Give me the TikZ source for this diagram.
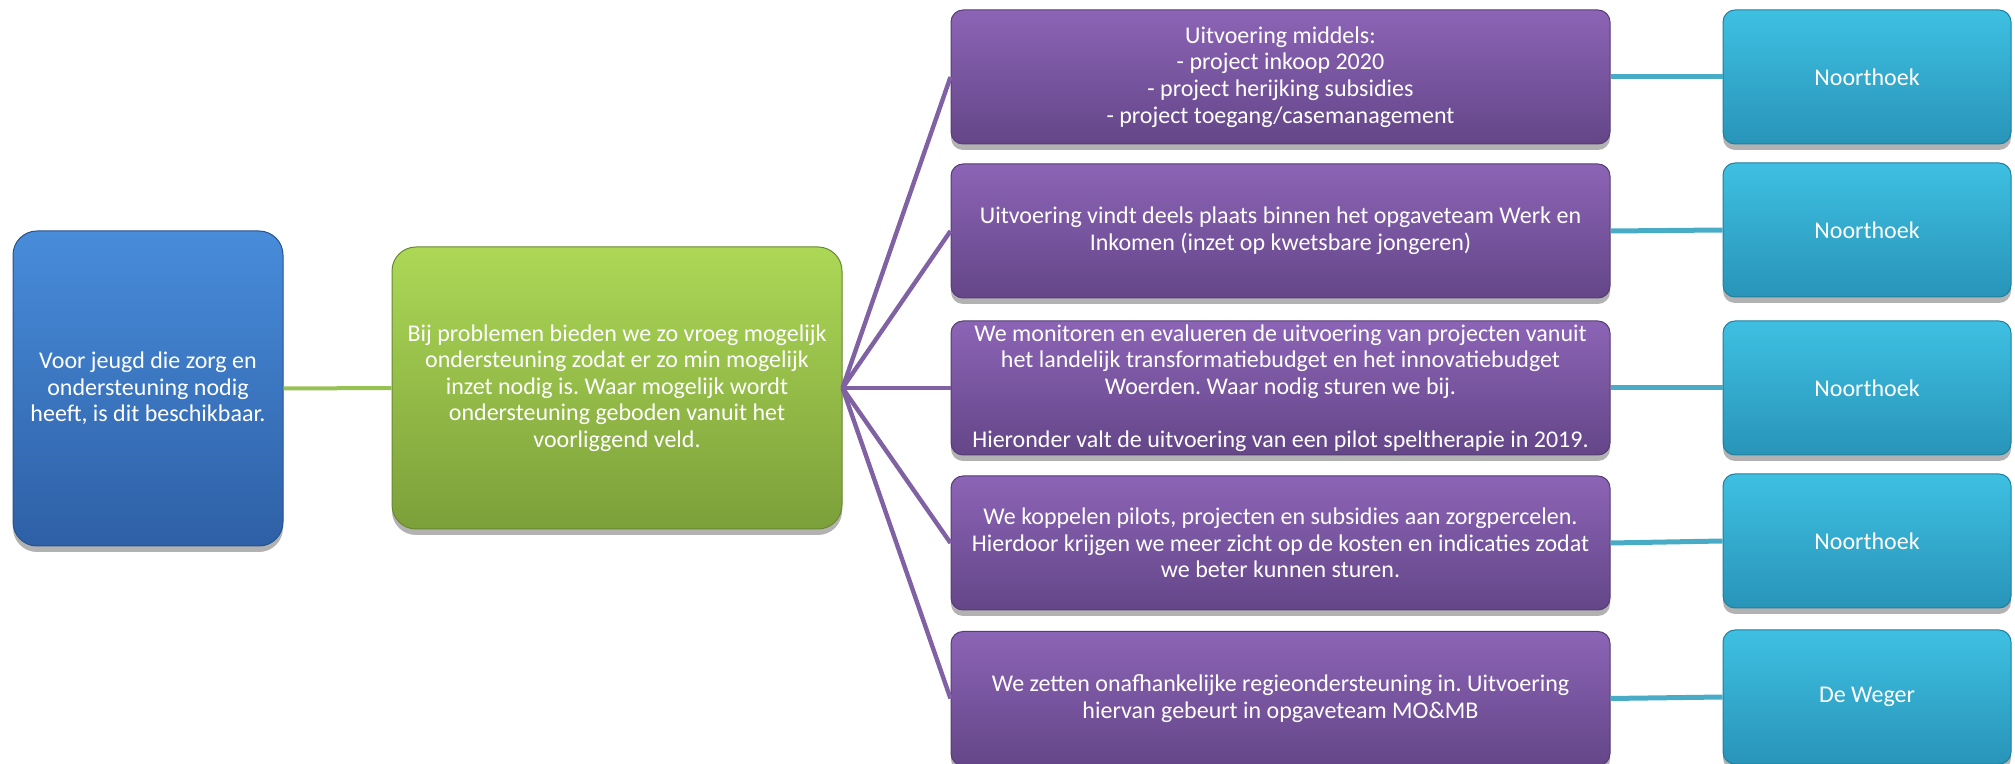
\documentclass[tikz,border=0pt]{standalone}
\usepackage{fontspec}
\setmainfont{Carlito}
\usetikzlibrary{shadows}
\frenchspacing
\definecolor{bluetop}{RGB}{72,140,218}
\definecolor{bluebot}{RGB}{46,96,166}
\definecolor{greentop}{RGB}{172,216,86}
\definecolor{greenbot}{RGB}{124,160,58}
\definecolor{purptop}{RGB}{140,100,182}
\definecolor{purpbot}{RGB}{100,70,136}
\definecolor{tealtop}{RGB}{62,192,226}
\definecolor{tealbot}{RGB}{40,148,184}
\definecolor{greenline}{RGB}{150,194,84}
\definecolor{purpline}{RGB}{128,98,164}
\definecolor{tealline}{RGB}{72,172,198}
\tikzset{
  box/.style={text=white, align=center, inner sep=0pt,
    font=\fontsize{12}{13.3}\selectfont,
    drop shadow={shadow xshift=0pt, shadow yshift=-3pt, opacity=0.3, fill=black}},
  bluebox/.style={box, rounded corners=12pt, top color=bluetop, bottom color=bluebot,
    draw=bluebot!85!black, line width=0.5pt, minimum width=135pt, minimum height=157.5pt},
  greenbox/.style={box, rounded corners=12pt, top color=greentop, bottom color=greenbot,
    draw=greenbot!85!black, line width=0.5pt, minimum width=225pt, minimum height=141pt},
  purpbox/.style={box, rounded corners=6pt, top color=purptop, bottom color=purpbot,
    draw=purpbot!85!black, line width=0.5pt, minimum width=329.5pt, minimum height=67pt},
  tealbox/.style={box, rounded corners=6pt, top color=tealtop, bottom color=tealbot,
    draw=tealbot!85!black, line width=0.5pt, minimum width=144pt, minimum height=67pt},
  gline/.style={draw=greenline, line width=2pt},
  pline/.style={draw=purpline, line width=2.2pt},
  tline/.style={draw=tealline, line width=2.5pt}
}
\begin{document}
\begin{tikzpicture}[x=0.5pt,y=0.5pt]
\useasboundingbox (0,0) rectangle (2015,-764);

\node[bluebox] (root) at (148,-388.5) {Voor jeugd die zorg en\\ondersteuning nodig\\heeft, is dit beschikbaar.};
\node[greenbox] (mid) at (617,-388) {Bij problemen bieden we zo vroeg mogelijk\\ondersteuning zodat er zo min mogelijk\\inzet nodig is. Waar mogelijk wordt\\ondersteuning geboden vanuit het\\voorliggend veld.};

\node[purpbox] (p1) at (1280.5,-77) {Uitvoering middels:\\- project inkoop 2020\\- project herijking subsidies\\- project toegang/casemanagement};
\node[purpbox] (p2) at (1280.5,-231) {Uitvoering vindt deels plaats binnen het opgaveteam Werk en\\Inkomen (inzet op kwetsbare jongeren)};
\node[purpbox] (p3) at (1280.5,-388) {We monitoren en evalueren de uitvoering van projecten vanuit\\het landelijk transformatiebudget en het innovatiebudget\\Woerden. Waar nodig sturen we bij.\\[13.3pt]Hieronder valt de uitvoering van een pilot speltherapie in 2019.};
\node[purpbox] (p4) at (1280.5,-543) {We koppelen pilots, projecten en subsidies aan zorgpercelen.\\Hierdoor krijgen we meer zicht op de kosten en indicaties zodat\\we beter kunnen sturen.};
\node[purpbox] (p5) at (1280.5,-698.5) {We zetten onafhankelijke regieondersteuning in. Uitvoering\\hiervan gebeurt in opgaveteam MO\&MB};

\node[tealbox] (t1) at (1867,-77) {Noorthoek};
\node[tealbox] (t2) at (1867,-230) {Noorthoek};
\node[tealbox] (t3) at (1867,-388) {Noorthoek};
\node[tealbox] (t4) at (1867,-541) {Noorthoek};
\node[tealbox] (t5) at (1867,-697) {De Weger};

\path[gline] (root.east) -- (mid.west);
\foreach \i in {1,...,5} {
  \path[pline] (mid.east) -- (p\i.west);
  \path[tline] (p\i.east) -- (t\i.west);
}
\end{tikzpicture}
\end{document}
